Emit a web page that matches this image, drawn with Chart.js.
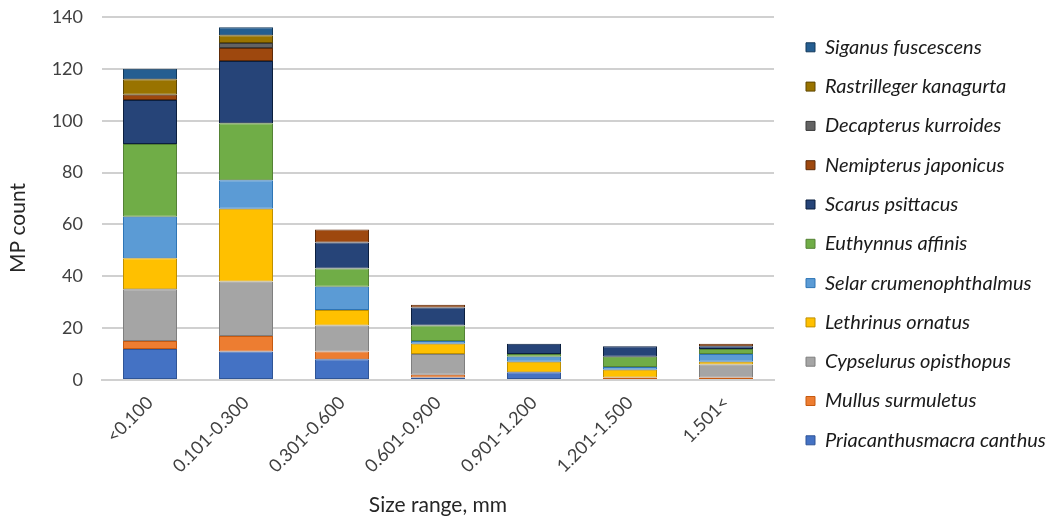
<!DOCTYPE html>
<html>
<head>
<meta charset="utf-8">
<script src="https://cdn.jsdelivr.net/npm/chart.js@4/dist/chart.umd.min.js"></script>
<style>
html,body{margin:0;padding:0;background:#fff;}
#wrap{width:1052px;height:521px;position:relative;}
</style>
</head>
<body>
<div id="wrap"><canvas id="c" width="1052" height="521"></canvas></div>
<script>
const categories = ["<0.100","0.101-0.300","0.301-0.600","0.601-0.900","0.901-1.200","1.201-1.500","1.501<"];
const yTicks = [0,20,40,60,80,100,120,140];
const yTitle = "MP count";
const xTitle = "Size range, mm";

const priacanthus = [12, 11, 8, 1, 3, 0, 0];
const mullus      = [3, 6, 3, 1, 0, 1, 1];
const cypselurus  = [20, 21, 10, 8, 0, 0, 5];
const lethrinus   = [12, 28, 6, 4, 4, 3, 1];
const selar       = [16, 11, 9, 1, 2, 1, 3];
const euthynnus   = [28, 22, 7, 6, 1, 4, 2];
const scarus      = [17, 24, 10, 7, 4, 4, 1];
const nemipterus  = [2, 5, 5, 1, 0, 0, 1];
const decapterus  = [0, 2, 0, 0, 0, 0, 0];
const rastrilleger= [6, 3, 0, 0, 0, 0, 0];
const siganus     = [4, 3, 0, 0, 0, 0, 0];

const seriesNames = ["Priacanthusmacra canthus","Mullus surmuletus","Cypselurus opisthopus","Lethrinus ornatus","Selar crumenophthalmus","Euthynnus affinis","Scarus psittacus","Nemipterus japonicus","Decapterus kurroides","Rastrilleger kanagurta","Siganus fuscescens"];
const seriesData = [priacanthus,mullus,cypselurus,lethrinus,selar,euthynnus,scarus,nemipterus,decapterus,rastrilleger,siganus];
const colors = ["#4472C4","#ED7D31","#A5A5A5","#FFC000","#5B9BD5","#70AD47","#264478","#9E480E","#636363","#997300","#255E91"];
const borders = ["#2F5597","#C55A11","#7F7F7F","#BF9000","#2E75B6","#548235","#0B1F3F","#5E2A08","#3A3A3A","#5E4700","#12385A"];

const datasets = seriesNames.map((n,i)=>({
  label:n, data:seriesData[i], backgroundColor:colors[i],
  borderColor:borders[i], borderWidth:1, borderSkipped:false,
  categoryPercentage:1.0, barPercentage:0.5625
}));

const FONT = "Lato, 'Open Sans', sans-serif";
Chart.defaults.font.family = FONT;

// fix legend width/position and draw y-axis title
const layoutTweak = {
  id:'layoutTweak',
  beforeLayout(chart){
    const lg = chart.legend;
    if (lg && !lg._patched){
      const f = lg.fit;
      lg.fit = function(){ f.call(this); this.width = 278; };
      lg._patched = true;
    }
  },
  afterLayout(chart){
    const lg = chart.legend;
    if (!lg) return;
    const dx = 786.7 - lg.left;
    lg.left += dx; lg.right += dx;
    const h = lg.bottom - lg.top;
    lg.top = 18; lg.bottom = 18 + h;
  },
  afterDraw(chart){
    const ctx = chart.ctx;
    ctx.save();
    ctx.translate(18, 228);
    ctx.rotate(-Math.PI/2);
    ctx.font = "21px " + FONT;
    ctx.fillStyle = '#262626';
    ctx.textAlign = 'center';
    ctx.textBaseline = 'middle';
    ctx.fillText(yTitle, 0, 0);
    ctx.restore();
  }
};

new Chart(document.getElementById('c'), {
  type:'bar',
  data:{labels:categories, datasets},
  plugins:[layoutTweak],
  options:{
    responsive:false, animation:false, maintainAspectRatio:false,
    layout:{padding:{left:0,top:0,right:0,bottom:0}},
    plugins:{
      legend:{
        position:'right', reverse:true, align:'start',
        labels:{
          boxWidth:9, boxHeight:9, padding:19.3,
          color:'#1a1a1a',
          font:{size:20, style:'italic'}
        }
      },
      tooltip:{enabled:false}
    },
    scales:{
      x:{
        stacked:true,
        afterFit:(s)=>{ s.height = 141; },
        grid:{display:false, drawTicks:false},
        border:{display:true, color:'#d0d0d0', width:2},
        ticks:{color:'#404040', font:{size:18}, minRotation:45, maxRotation:45, padding:12},
        title:{display:true, text:xTitle, color:'#262626', font:{size:21}, padding:{top:4,bottom:3}}
      },
      y:{
        stacked:true, min:0, max:140,
        afterBuildTicks:(s)=>{ s.ticks = yTicks.map(v=>({value:v})); },
        afterFit:(s)=>{ s.width = 102; s.paddingTop = 17; s.paddingBottom = 0; },
        grid:{color:'#d0d0d0', lineWidth:2, drawTicks:false},
        border:{display:false},
        ticks:{color:'#404040', font:{size:18}, padding:19}
      }
    }
  }
});
</script>
</body>
</html>
